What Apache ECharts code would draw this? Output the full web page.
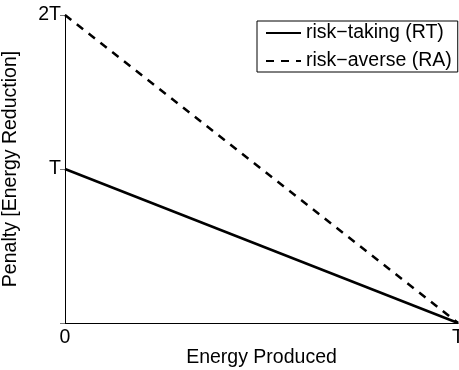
<!DOCTYPE html>
<html><head><meta charset="utf-8">
<script src="https://cdn.jsdelivr.net/npm/echarts@6/dist/echarts.min.js"></script>
<style>html,body{margin:0;padding:0;background:#fff}#c{width:459px;height:370px}</style>
</head><body><div id="c"></div>
<script>
const xValues = [0, 1];
const riskTaking = [1, 0];
const riskAverse = [2, 0];
const xTickLabels = {0: '0', 1: 'T'};
const yTickLabels = {0: '', 1: 'T', 2: '2T'};
const seriesNames = ['risk\u2212taking (RT)', 'risk\u2212averse (RA)'];

const font = 'Liberation Sans, Arial, Helvetica, sans-serif';
const fs = 19.5;
const chart = echarts.init(document.getElementById('c'), null, {renderer: 'canvas'});
function tick(show) { return {show: show, inside: true, length: 5, lineStyle: {color: '#000', width: 1}}; }
function line() { return {show: true, lineStyle: {color: '#000', width: 1}}; }
chart.setOption({
  animation: false,
  grid: {left: 65, right: 1, top: 15, bottom: 47, outerBoundsMode: 'none', containLabel: false},
  legend: {
    orient: 'vertical', left: 257, top: 21,
    padding: [2, 6, 1, 8], itemGap: 8, itemWidth: 35, itemHeight: 14,
    borderColor: '#000', borderWidth: 1, backgroundColor: '#fff',
    itemStyle: {opacity: 0},
    textStyle: {fontFamily: font, fontSize: 19.5, lineHeight: 20, color: '#000'},
    data: seriesNames
  },
  xAxis: [
    {type: 'value', min: 0, max: 1, interval: 1, position: 'bottom',
      axisLine: line(), axisTick: tick(false), splitLine: {show: false},
      name: 'Energy Produced', nameLocation: 'middle', nameGap: 25, nameMoveOverlap: false,
      nameTextStyle: {fontFamily: font, fontSize: fs, color: '#000'},
      axisLabel: {fontFamily: font, fontSize: fs, color: '#000', margin: 5,
        showMinLabel: true, showMaxLabel: true, hideOverlap: false,
        formatter: v => xTickLabels[v] ?? ''}},
    {type: 'value', min: 0, max: 1, interval: 1, position: 'top',
      axisLine: line(), axisTick: tick(false), splitLine: {show: false},
      axisLabel: {show: false}}
  ],
  yAxis: [
    {type: 'value', min: 0, max: 2, interval: 1, position: 'left',
      axisLine: line(), axisTick: tick(false), splitLine: {show: false},
      name: 'Penalty [Energy Reduction]', nameLocation: 'middle', nameGap: 44, nameMoveOverlap: false,
      nameTextStyle: {fontFamily: font, fontSize: fs, color: '#000'},
      axisLabel: {fontFamily: font, fontSize: fs, color: '#000', margin: 4,
        formatter: v => yTickLabels[v] ?? ''}},
    {type: 'value', min: 0, max: 2, interval: 1, position: 'right',
      axisLine: {show: false}, axisTick: {show: true, inside: true, length: 5, lineStyle: {color: '#777', width: 1}},
      splitLine: {show: false}, axisLabel: {show: false}}
  ],
  series: [
    {name: seriesNames[0], type: 'line', symbol: 'none',
     data: xValues.map((x, i) => [x, riskTaking[i]]),
     lineStyle: {color: '#000', width: 2.5, type: 'solid'}, itemStyle: {color: '#000'}},
    {name: seriesNames[1], type: 'line', symbol: 'none',
     data: xValues.map((x, i) => [x, riskAverse[i]]),
     lineStyle: {color: '#000', width: 2.5, type: [8, 7]}, itemStyle: {color: '#000'}}
  ]
});
</script></body></html>
